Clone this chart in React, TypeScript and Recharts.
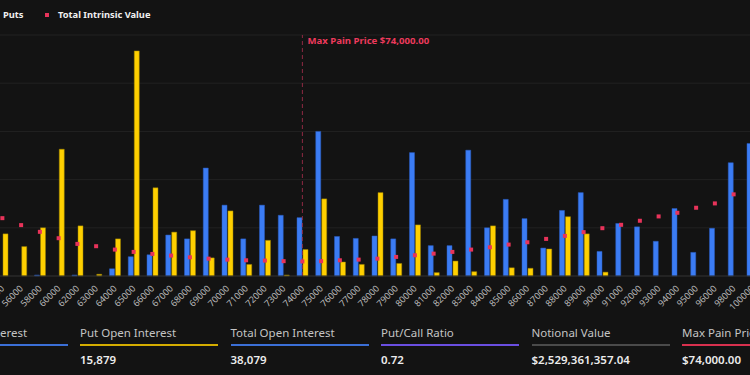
import { ComposedChart, Bar, Scatter, XAxis, YAxis, CartesianGrid, ReferenceLine } from 'recharts'

const strikes = [
  55000, 56000, 58000, 60000, 62000, 63000, 64000, 65000, 66000, 67000, 68000,
  69000, 70000, 71000, 72000, 73000, 74000, 75000, 76000, 77000, 78000, 79000,
  80000, 81000, 82000, 83000, 84000, 85000, 86000, 87000, 88000, 89000, 90000,
  91000, 92000, 93000, 94000, 95000, 96000, 98000, 100000,
]
const callOI = [
  0, 0, 10, 0, 10, 0, 75, 200, 220, 425, 385,
  1120, 735, 385, 735, 630, 605, 1500, 410, 390, 415, 385,
  1280, 315, 315, 1305, 500, 795, 595, 290, 680, 865, 255,
  545, 510, 360, 700, 245, 495, 1175, 1375,
]
const putOI = [
  437, 305, 500, 1315, 520, 18, 385, 2335, 915, 455, 470,
  188, 675, 120, 370, 10, 275, 800, 145, 120, 865, 130,
  530, 35, 155, 45, 520, 85, 80, 280, 615, 437, 40,
  0, 0, 0, 0, 0, 0, 0, 0,
]
const intrinsic = [
  600, 528, 458, 392, 333, 309, 274, 250, 229, 212, 194,
  180, 170, 163, 160, 154, 151, 154, 163, 170, 180, 198,
  215, 232, 250, 274, 298, 326, 350, 385, 416, 455, 496,
  531, 573, 618, 656, 708, 753, 847, 950,
]
const oiTicks = [0, 500, 1000, 1500, 2000, 2500]
const maxPain = 74000

const statLabels = ['Call Open Interest', 'Put Open Interest', 'Total Open Interest', 'Put/Call Ratio', 'Notional Value', 'Max Pain Price']
const statValues = ['22,200', '15,879', '38,079', '0.72', '$2,529,361,357.04', '$74,000.00']
const statColors = ['#3b6fd6', '#d4ac00', '#3b6fd6', '#6a4ee0', '#4a4a4a', '#d8304e']

const data = strikes.map((strike, i) => ({
  strike,
  calls: callOI[i],
  puts: putOI[i],
  intrinsic: intrinsic[i],
}))

const FONT = '"Noto Sans", "Open Sans", sans-serif'
const BG = '#131313'

function StrikeTick({ x, y, payload }: any) {
  return (
    <g transform={`translate(${x + 2.5},${y + 5})`}>
      <text textAnchor="end" transform="rotate(-45)" fill="#b8b8b8" fontSize={9} fontFamily={FONT}>
        {payload.value}
      </text>
    </g>
  )
}

function SquareDot({ cx, cy }: any) {
  if (cx == null || cy == null) return null
  return <rect x={cx - 2} y={cy - 2} width={4} height={4} fill="#e8335a" />
}

function MaxPainLabel({ viewBox }: any) {
  return (
    <text x={viewBox.x + 5} y={viewBox.y + 8.5} fill="#ec3a5c" fontSize={9.6} fontWeight={700} fontFamily={FONT}>
      Max Pain Price $74,000.00
    </text>
  )
}

export default function App() {
  return (
    <div style={{ position: 'fixed', left: 0, top: 0, width: 750, height: 375, overflow: 'hidden', background: BG, fontFamily: FONT }}>
      {/* legend, the Calls entry falls outside the left edge */}
      <div style={{ position: 'absolute', top: 7, left: 0, height: 16, color: '#f0f0f0', fontSize: 9.3, fontWeight: 700, whiteSpace: 'nowrap' }}>
        <span style={{ position: 'absolute', left: 3, top: 1 }}>Puts</span>
        <span style={{ position: 'absolute', left: 45, top: 6, width: 4, height: 4, background: '#e8335a' }} />
        <span style={{ position: 'absolute', left: 58, top: 1 }}>Total Intrinsic Value</span>
      </div>

      <div style={{ position: 'absolute', left: -6.75, top: 0 }}>
        <ComposedChart width={800} height={330} data={data} margin={{ top: 35, right: 31.25, bottom: 0, left: 0 }} barSize={5} barGap={1}>
          <CartesianGrid vertical={false} stroke="#222222" yAxisId="oi" />
          <XAxis dataKey="strike" interval={0} height={54} tickLine={false} axisLine={{ stroke: '#2c2c2c' }} tick={<StrikeTick />} />
          <YAxis yAxisId="oi" hide domain={[0, 2500]} ticks={oiTicks} />
          <YAxis yAxisId="iv" hide orientation="right" domain={[0, 2500]} />
          <ReferenceLine x={maxPain} yAxisId="oi" stroke="#8e2a42" strokeDasharray="4 3" label={<MaxPainLabel />} />
          <Bar dataKey="calls" yAxisId="oi" fill="#3b7cf4" stroke="#2a5cc0" strokeWidth={0.5} isAnimationActive={false} />
          <Bar dataKey="puts" yAxisId="oi" fill="#ffd000" stroke="#9a8000" strokeWidth={0.5} isAnimationActive={false} />
          <Scatter dataKey="intrinsic" yAxisId="iv" shape={<SquareDot />} isAnimationActive={false} />
        </ComposedChart>
      </div>

      {/* summary stats */}
      {statLabels.map((label, i) => (
        <div key={label} style={{ position: 'absolute', left: -70.5 + i * 150.5, top: 325, width: 138 }}>
          <div style={{ fontSize: 11.5, color: '#c4c4c4', lineHeight: '16px', whiteSpace: 'nowrap' }}>{label}</div>
          <div style={{ height: 2, marginTop: 3, background: statColors[i] }} />
          <div style={{ fontSize: 11.5, color: '#ececec', fontWeight: 600, marginTop: 6, lineHeight: '16px', whiteSpace: 'nowrap' }}>{statValues[i]}</div>
        </div>
      ))}
    </div>
  )
}
